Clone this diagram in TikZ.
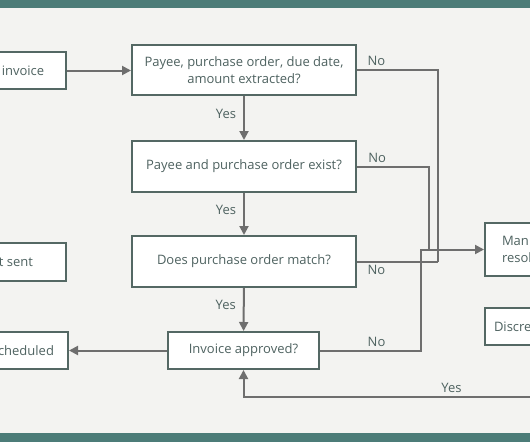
\documentclass[tikz,border=0pt]{standalone}
\usepackage{fontspec}
\setmainfont{Open Sans}
\usetikzlibrary{arrows.meta, positioning, calc}
\definecolor{cBar}{RGB}{76,124,120}
\definecolor{cBg}{RGB}{243,243,241}
\definecolor{cBorder}{RGB}{84,104,100}
\definecolor{cText}{RGB}{78,98,96}
\definecolor{cLine}{RGB}{110,110,110}
\tikzset{
	box/.style ={rectangle, draw=cBorder, line width=2pt, fill=white, text=cText, align=center, inner sep=0pt},
	flow/.style={-{Triangle[length=9pt, width=9pt]}, line width=2pt, cLine},
	link/.style={line width=2pt, cLine},
	lbl/.style ={text=cText, inner sep=3pt},
	yeslbl/.style={lbl, left, inner xsep=7pt, pos=0.4},
}

\begin{document}
\begin{tikzpicture}[x=1pt, y=-1pt, font=\fontsize{13}{17}\selectfont]
	\useasboundingbox (0,0) rectangle (530,442);
	\clip (0,0) rectangle (530,442);
	\fill[cBg] (0,0) rectangle (530,442);
	\fill[cBar] (0,0) rectangle (530,8);
	\fill[cBar] (0,433) rectangle (530,442);
	% middle column
	\node[box, minimum width=224pt, minimum height=50pt] (extract) at (244,70) {Payee, purchase order, due date,\\ amount extracted?};
	\node[box, minimum width=224pt, minimum height=51pt] (exist) at (244,166.5) {Payee and purchase order exist?};
	\node[box, minimum width=224pt, minimum height=51pt] (match) at (244,261.5) {Does purchase order match?};
	\node[box, minimum width=151pt, minimum height=37pt] (approved) at (243.5,350.5) {Invoice approved?};
	% left column
	\node[box, minimum width=86pt, minimum height=37pt] (invoice) at (23,70.5) {invoice};
	\node[box, minimum width=100pt, minimum height=38pt] (sent) at (16,262) {t sent};
	\node[box, minimum width=84pt, minimum height=37pt] (sched) at (26,350.5) {cheduled};
	% right column
	\node[box, anchor=west, minimum height=53pt, inner xsep=17pt, text width=60pt, align=left] (manual) at (484,249.5) {Man\\ resol};
	\node[box, anchor=west, minimum height=37pt, inner xsep=9pt, text width=60pt, align=left] (discrep) at (484,326.5) {Discre};
	\coordinate (jA) at (421,249.5);
	\coordinate (jB) at (429,249.5);
	\coordinate (jC) at (438,261.5);
	\coordinate (yesIn) at (545,397);
	\draw[flow] (invoice.east) -- (invoice.east -| extract.west);
	\draw[flow] (extract) -- node[yeslbl] {Yes} (exist);
	\draw[flow] (exist) -- node[yeslbl] {Yes} (match);
	\draw[flow] (match) -- node[yeslbl] {Yes} (approved);
	\draw[flow] (approved) -- (sched);
	\draw[link] (extract.east) -| node[lbl, pos=0.12, above] {No} (jC);
	\draw[link] (match.east) -- node[lbl, pos=0.24, below] {No} (jC);
	\draw[link] (exist.east) -| node[lbl, pos=0.14, above] {No} (jB);
	\draw[flow] (approved.east) -| node[lbl, pos=0.28, above] {No} (jA) -- (jA -| manual.west);
	\draw[flow] (yesIn) -| node[lbl, pos=0.155, above] {Yes} (approved.south);
\end{tikzpicture}
\end{document}
